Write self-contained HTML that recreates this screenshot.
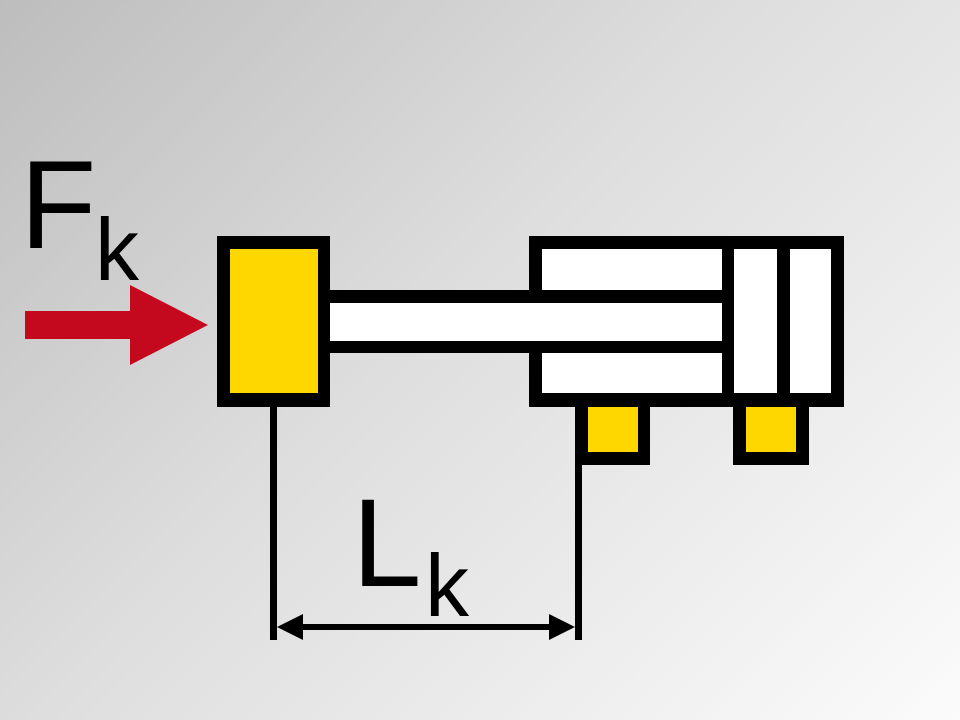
<!DOCTYPE html>
<html><head><meta charset="utf-8"><style>
html,body{margin:0;padding:0}
body{width:960px;height:720px;overflow:hidden;background:linear-gradient(135deg,#bdbdbd 0%,#dedede 45%,#fbfbfb 100%)}
</style></head><body>
<svg width="960" height="720" viewBox="0 0 960 720" xmlns="http://www.w3.org/2000/svg" style="position:absolute;left:0;top:0">
<!-- red arrow -->
<polygon points="25,311 130,311 130,285 208,325 130,365 130,339 25,339" fill="#c4081d"/>
<!-- cylinder -->
<rect x="529" y="236" width="315" height="171" fill="#000"/>
<rect x="542" y="249" width="180" height="144" fill="#fff"/>
<rect x="734" y="249" width="43" height="144" fill="#fff"/>
<rect x="790" y="249" width="41" height="144" fill="#fff"/>
<!-- rod -->
<rect x="320" y="290" width="402" height="63" fill="#000"/>
<rect x="330" y="303" width="392" height="38" fill="#fff"/>
<!-- block -->
<rect x="217" y="236" width="113" height="171" fill="#000"/>
<rect x="230" y="249" width="88" height="144" fill="#ffd700"/>
<!-- feet -->
<rect x="575" y="400" width="75" height="65" fill="#000"/>
<rect x="588" y="407" width="50" height="45" fill="#ffd700"/>
<rect x="733" y="400" width="76" height="65" fill="#000"/>
<rect x="746" y="407" width="50" height="45" fill="#ffd700"/>
<!-- dimension lines -->
<rect x="270" y="407" width="7" height="233" fill="#000"/>
<rect x="575" y="465" width="7" height="175" fill="#000"/>
<rect x="295" y="624" width="260" height="6" fill="#000"/>
<polygon points="277,627 303,614 303,640" fill="#000"/>
<polygon points="575,627 549,614 549,640" fill="#000"/>
<text x="20" y="248" font-family="Liberation Sans, sans-serif" font-size="125" fill="#000">F</text>
<text x="95" y="280" font-family="Liberation Sans, sans-serif" font-size="88" fill="#000">k</text>
<text x="352" y="586" font-family="Liberation Sans, sans-serif" font-size="125" fill="#000">L</text>
<text x="425" y="616" font-family="Liberation Sans, sans-serif" font-size="88" fill="#000">k</text>
</svg>
</body></html>
